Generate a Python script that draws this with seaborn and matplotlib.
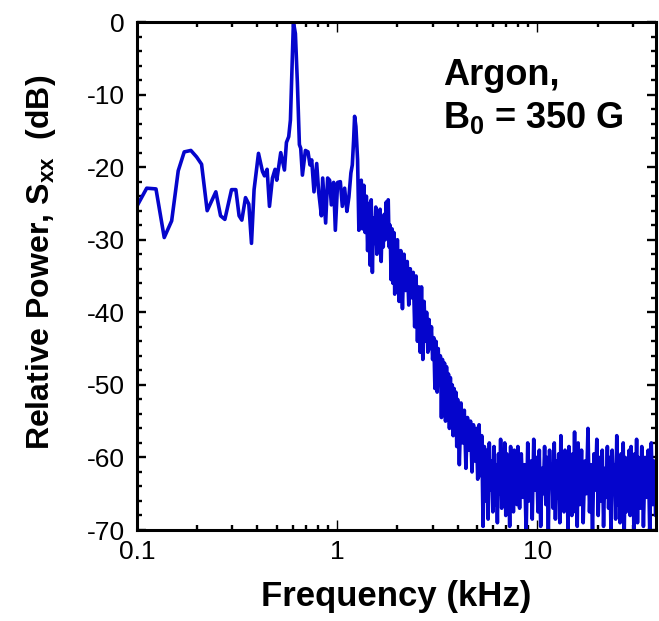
import numpy as np
import pandas as pd
import matplotlib
matplotlib.use("Agg")
import matplotlib.pyplot as plt
from matplotlib import font_manager
from matplotlib.ticker import FixedLocator, FixedFormatter, MultipleLocator, LogLocator, NullFormatter
import seaborn as sns

# ---- data (frequency in kHz, Sxx in dB) ----
freq_low = [0.098, 0.1118, 0.1244, 0.1368, 0.1490, 0.1607, 0.1722, 0.1859, 0.1986, 0.2102,
            0.2242, 0.2477, 0.2615, 0.2748, 0.2967, 0.3118, 0.3237, 0.3340, 0.3485, 0.3620,
            0.3733, 0.3846, 0.4046, 0.4236, 0.4335, 0.4467, 0.4591, 0.4752, 0.4896, 0.4993,
            0.5227, 0.5454, 0.5580, 0.5729, 0.5843, 0.5951, 0.6047, 0.6187, 0.6330, 0.6478,
            0.6577, 0.6707, 0.6942, 0.7153, 0.7318, 0.7463, 0.7663, 0.7905, 0.8087, 0.8343,
            0.8469, 0.8762, 0.8966, 0.9174, 0.9357, 0.9605, 0.9795, 1.0058, 1.0375, 1.0615,
            1.0899, 1.1192, 1.1452, 1.1716, 1.1907, 1.2087, 1.2226, 1.2410, 1.2653, 1.2843]
sxx_low = [-25.8, -22.9, -23.0, -29.7, -27.4, -20.5, -17.9, -17.7, -18.6, -19.6,
           -26.0, -23.4, -26.7, -27.2, -23.1, -23.1, -26.7, -27.3, -24.2, -25.1,
           -30.5, -23.1, -18.1, -20.6, -21.2, -20.3, -25.4, -21.5, -20.3, -21.8,
           -18.0, -20.4, -16.6, -15.8, -13.5, -6.2, 0.0, -1.6, -8.4, -16.9,
           -17.4, -21.1, -17.7, -17.9, -19.7, -19.0, -23.4, -19.5, -23.4, -26.7,
           -21.5, -27.7, -21.5, -21.8, -25.2, -22.1, -28.7, -22.1, -22.0, -25.4,
           -22.9, -26.1, -24.1, -20.8, -19.7, -16.3, -13.0, -14.4, -19.0, -28.7]

freq_roll = [1.30, 1.32, 1.34, 1.36, 1.38, 1.40, 1.42, 1.44, 1.46, 1.48,
             1.50, 1.52, 1.54, 1.56, 1.58, 1.60, 1.62, 1.64, 1.66, 1.68,
             1.70, 1.72, 1.74, 1.76, 1.78, 1.80, 1.82, 1.84, 1.86, 1.88,
             1.90, 1.92, 1.94, 1.96, 1.98, 2.00,
             2.04, 2.08, 2.12, 2.16, 2.20, 2.24, 2.28, 2.32, 2.36, 2.40,
             2.44, 2.48, 2.52, 2.56, 2.60, 2.64, 2.68, 2.72, 2.76, 2.80,
             2.84, 2.88, 2.92, 2.96, 3.00, 3.04, 3.08, 3.12, 3.16, 3.20,
             3.24, 3.28, 3.32, 3.36, 3.40, 3.44, 3.48, 3.52, 3.56, 3.60,
             3.64, 3.68, 3.72, 3.76, 3.80, 3.84, 3.88, 3.92, 3.96, 4.00,
             4.08, 4.16, 4.24, 4.32, 4.40, 4.48, 4.56, 4.64, 4.72, 4.80,
             4.88, 4.96, 5.04, 5.12, 5.20, 5.28]
sxx_roll = [-24.5, -21.8, -28.5, -22.5, -29.0, -24.0, -31.5, -25.0, -33.5, -24.5,
            -34.5, -27.0, -30.5, -25.5, -32.0, -26.0, -29.5, -25.8, -33.0, -27.0,
            -31.0, -26.5, -30.0, -24.8, -28.5, -24.5, -31.0, -28.0, -35.5, -28.5,
            -36.0, -29.0, -37.5, -30.5, -35.0, -30.0,
            -38.5, -31.5, -39.5, -32.0, -37.0, -33.0, -39.0, -34.0, -38.0, -34.5,
            -42.0, -35.0, -44.0, -36.5, -45.5, -36.5, -46.5, -38.5, -44.0, -40.0,
            -45.5, -41.0, -45.0, -42.0, -46.5, -43.5, -50.5, -44.0, -51.0, -45.0,
            -49.5, -46.0, -54.5, -46.5, -53.0, -47.0, -55.0, -47.5, -52.0, -48.5,
            -56.0, -49.0, -54.0, -50.0, -57.0, -50.5, -55.5, -51.0, -58.5, -52.0,
            -61.0, -52.5, -58.0, -53.5, -61.5, -54.5, -59.0, -55.0, -62.0, -55.5,
            -60.5, -56.0, -63.0, -55.5, -62.5, -57.0]

freq_floor = [5.36, 5.44, 5.52, 5.60, 5.68, 5.76, 5.84, 5.92, 6.00, 6.08,
              6.16, 6.24, 6.32, 6.40, 6.48, 6.56, 6.64, 6.72, 6.80, 6.88,
              6.96, 7.04, 7.12, 7.20, 7.28, 7.36, 7.44, 7.52, 7.60, 7.68,
              7.76, 7.84, 7.92, 8.00,
              8.16, 8.32, 8.48, 8.64, 8.80, 8.96, 9.12, 9.28, 9.44, 9.60,
              9.76, 9.92, 10.08, 10.24, 10.40, 10.56, 10.72, 10.88, 11.04, 11.20,
              11.36, 11.52, 11.68, 11.84, 12.00, 12.16, 12.32, 12.48, 12.64, 12.80,
              12.96, 13.12, 13.28, 13.44, 13.60, 13.76, 13.92, 14.08, 14.24, 14.40,
              14.56, 14.72, 14.88, 15.04, 15.20, 15.36, 15.52, 15.68, 15.84, 16.00,
              16.32, 16.64, 16.96, 17.28, 17.60, 17.92, 18.24, 18.56, 18.88, 19.20,
              19.52, 19.84, 20.16, 20.48, 20.80, 21.12, 21.44, 21.76, 22.08, 22.40,
              22.72, 23.04, 23.36, 23.68, 24.00, 24.32, 24.64, 24.96, 25.28, 25.60,
              25.92, 26.24, 26.56, 26.88, 27.20, 27.52, 27.84, 28.16, 28.48, 28.80,
              29.12, 29.44, 29.76, 30.08, 30.40, 30.72, 31.04, 31.36, 31.68, 32.00,
              32.64, 33.28, 33.92, 34.56, 35.20, 35.84, 36.48, 37.12, 37.76, 38.40,
              39.04, 39.68]
sxx_floor = [-69.5, -58.5, -66.0, -59.0, -68.5, -58.0, -64.5, -60.5, -67.5, -58.5,
             -66.5, -61.0, -69.0, -59.5, -65.0, -57.5, -67.0, -60.0, -63.5, -58.0,
             -68.0, -59.5, -66.0, -61.5, -69.5, -58.5, -65.5, -60.0, -67.5, -59.0,
             -64.0, -60.5, -66.5, -58.5,
             -67.0, -59.5, -65.5, -61.0, -70.5, -58.0, -66.0, -60.5, -68.5, -57.5,
             -64.5, -60.0, -67.5, -59.0, -69.5, -61.5, -65.0, -58.5, -66.5, -60.0,
             -70.5, -59.0, -64.0, -61.0, -67.0, -58.0, -68.5, -60.5, -65.5, -59.5,
             -69.0, -57.0, -66.0, -61.5, -67.5, -59.0, -64.5, -60.0, -70.5, -58.5,
             -66.0, -61.0, -68.0, -59.5, -65.0, -56.5, -67.5, -60.5, -69.5, -58.0,
             -66.5, -59.0, -69.0, -60.5, -65.0, -56.0, -67.5, -61.0, -70.5, -59.5,
             -64.5, -57.5, -68.0, -60.0, -66.0, -59.0, -69.5, -61.5, -65.5, -58.5,
             -67.0, -60.0, -70.5, -59.0, -64.0, -61.0, -68.5, -57.0, -66.5, -60.5,
             -69.0, -59.5, -65.0, -58.0, -70.5, -60.0, -67.5, -61.0, -64.5, -59.0,
             -68.0, -58.5, -66.0, -60.5, -70.5, -59.5, -65.5, -57.5, -69.0, -60.0,
             -67.0, -58.5, -69.5, -60.0, -65.5, -59.0, -70.5, -58.0, -66.5, -60.5,
             -68.0, -59.5]

xtick_values = [0.1, 1, 10]
xtick_labels = ["0.1", "1", "10"]
ytick_values = [0, -10, -20, -30, -40, -50, -60, -70]
ytick_labels = ["0", "-10", "-20", "-30", "-40", "-50", "-60", "-70"]

df = pd.DataFrame({
    "freq": freq_low + freq_roll + freq_floor,
    "sxx": sxx_low + sxx_roll + sxx_floor,
})

# ---- style ----
sns.set_theme(style="ticks")
names = {f.name for f in font_manager.fontManager.ttflist}
narrow = "Liberation Sans Narrow" if "Liberation Sans Narrow" in names else "Liberation Sans"
plt.rcParams["font.family"] = ["Liberation Sans", "DejaVu Sans"]
plt.rcParams["axes.unicode_minus"] = False
plt.rcParams["mathtext.fontset"] = "custom"
plt.rcParams["mathtext.rm"] = "Liberation Sans"
plt.rcParams["mathtext.bf"] = "Liberation Sans:bold"
for key in ["text.color", "axes.labelcolor", "xtick.color", "ytick.color", "axes.edgecolor"]:
    plt.rcParams[key] = "black"

W, H = 659, 621
fig = plt.figure(figsize=(W / 100, H / 100), dpi=100)
L, R, T, B = 137, 656, 22, 530
ax = fig.add_axes([L / W, 1 - B / H, (R - L) / W, (B - T) / H])

sns.lineplot(data=df, x="freq", y="sxx", ax=ax, sort=False, estimator=None,
             color="#0505cc", linewidth=2.6)

ax.set_xscale("log")
ax.set_xlim(0.1, 39.2)
ax.set_ylim(-70, 0)

ax.xaxis.set_major_locator(FixedLocator(xtick_values))
ax.xaxis.set_major_formatter(FixedFormatter(xtick_labels))
ax.xaxis.set_minor_locator(LogLocator(base=10, subs=np.arange(2, 10)))
ax.xaxis.set_minor_formatter(NullFormatter())
ax.yaxis.set_major_locator(FixedLocator(ytick_values))
ax.yaxis.set_major_formatter(FixedFormatter(ytick_labels))
ax.yaxis.set_minor_locator(MultipleLocator(2))

for s in ax.spines.values():
    s.set_visible(True)
    s.set_linewidth(2.2)
    s.set_color("black")

ax.tick_params(which="both", direction="in", top=True, right=True, colors="black")
ax.tick_params(axis="y", which="major", length=6.5, width=1.7, pad=9, labelsize=19)
ax.tick_params(axis="y", which="minor", length=3.6, width=1.7)
ax.tick_params(axis="x", which="major", length=7.5, width=1.0, pad=7, labelsize=19)
ax.tick_params(axis="x", which="minor", length=3.6, width=1.7)
for lab in ax.get_xticklabels() + ax.get_yticklabels():
    lab.set_family([narrow, "Liberation Sans", "DejaVu Sans"])

ax.set_xlabel("Frequency (kHz)", fontsize=25, fontweight="bold",
              family=[narrow, "Liberation Sans", "DejaVu Sans"], labelpad=12)
ax.set_ylabel(r"Relative Power, S$_{\mathbf{xx}}$  (dB)", fontsize=23, fontweight="bold",
              family=[narrow, "Liberation Sans", "DejaVu Sans"])
ax.yaxis.set_label_coords((58 - L) / (R - L), (B - 262) / (B - T))

ax.text((443 - L) / (R - L), (B - 85) / (B - T), "Argon,", transform=ax.transAxes,
        fontsize=26, fontweight="bold", va="baseline", ha="left", color="black")
ax.text((443 - L) / (R - L), (B - 128) / (B - T), r"B$_{\mathbf{0}}$ = 350 G",
        transform=ax.transAxes, fontsize=26, fontweight="bold", va="baseline",
        ha="left", color="black")

fig.savefig("out.png", dpi=100, facecolor="white")
